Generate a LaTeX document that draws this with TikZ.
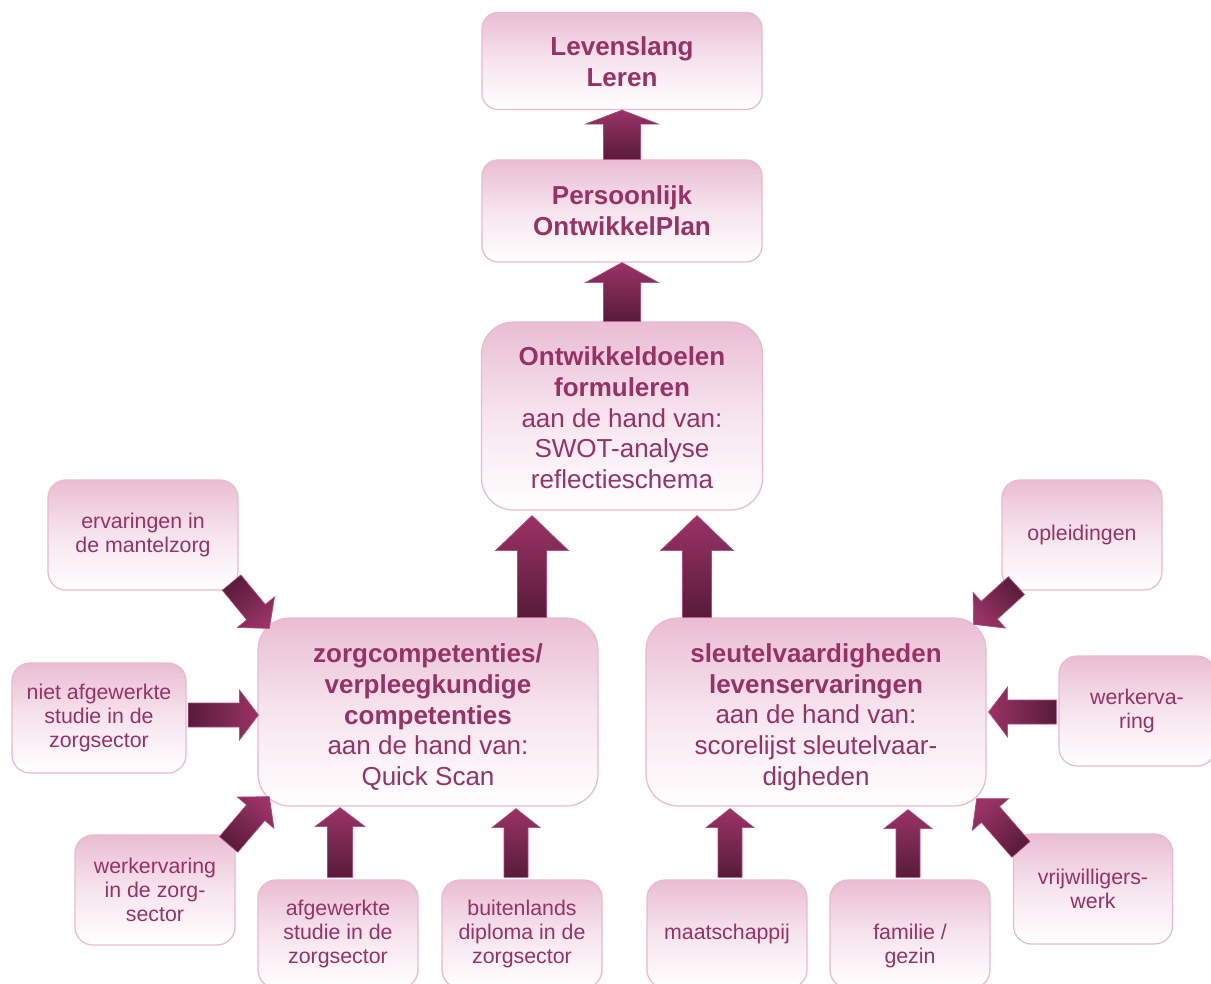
\documentclass[tikz,border=0pt]{standalone}
\usepackage{fontspec}
\setmainfont{Liberation Sans}
\usetikzlibrary{calc}

\definecolor{boxtop}{RGB}{233,189,211}
\definecolor{boxline}{RGB}{234,184,208}
\definecolor{boxtext}{RGB}{152,50,102}
\definecolor{arrowhi}{RGB}{154,51,101}
\definecolor{arrowlo}{RGB}{88,27,57}
\definecolor{arrowline}{RGB}{178,70,126}

\def\px{0.75pt}

% block arrow from #1 to #2: shaft half width, head half width, head length (px)
\newcommand{\flowarrow}[5]{%
  \path let \p1=(#1), \p2=(#2) in \pgfextra{%
    \pgfmathsetmacro\faang{atan2((\y2)-(\y1),(\x2)-(\x1))}%
    \pgfmathsetmacro\falen{veclen((\x2)-(\x1),(\y2)-(\y1))}%
    \global\let\faang\faang \global\let\falen\falen};
  \pgfmathsetmacro\fashade{\faang-90}%
  \begin{scope}[shift={(#1)}, rotate=\faang]
    \shade[flowfill, shading angle=\fashade]
      (0pt,{-#3*\px}) -- ({\falen pt-#5*\px},{-#3*\px})
      -- ({\falen pt-#5*\px},{-#4*\px}) -- (\falen pt,0pt)
      -- ({\falen pt-#5*\px},{#4*\px}) -- ({\falen pt-#5*\px},{#3*\px})
      -- (0pt,{#3*\px}) -- cycle;
  \end{scope}
}

\begin{document}
\begin{tikzpicture}[x=0.75pt, y=0.75pt]

    \tikzset{
      box/.style={
        draw=boxline,
        line width=0.9pt,
        top color=boxtop,
        bottom color=white,
        middle color=boxtop!40!white,
        align=center,
        text=boxtext,
        inner sep=0pt,
      },
      topbox/.style={box, font=\fontsize{19.5}{23}\selectfont\bfseries,
        minimum width=280*\px, rounded corners=16*\px},
      mainbox/.style={box, font=\fontsize{19.5}{23}\selectfont,
        minimum height=188*\px, rounded corners=32*\px},
      smallbox/.style={box, font=\fontsize{16}{18}\selectfont,
        minimum width=160*\px, minimum height=110*\px, rounded corners=18*\px},
      flowfill/.style={
        draw=arrowline,
        line width=0.5pt,
        top color=arrowhi,
        bottom color=arrowlo,
      },
    }
    \useasboundingbox (0,0) rectangle (1211,-984);
    \clip (0,0) rectangle (1211,-984);

    % top column
    \node[topbox, minimum height=97*\px] (leven) at (622,-61) {\rule{0pt}{15.5pt}Levenslang\\Leren};
    \node[topbox, minimum height=102*\px] (pop) at (622,-211) {Persoonlijk\\OntwikkelPlan};
    \node[mainbox, minimum width=281*\px] (doel) at (622,-416)
      {\rule{0pt}{17pt}\textbf{Ontwikkeldoelen}\\\textbf{formuleren}\\aan de hand van:\\SWOT-analyse\\reflectieschema};

    % two main boxes
    \node[mainbox, minimum width=340*\px] (zorg) at (428,-712)
      {\rule{0pt}{22pt}\textbf{zorgcompetenties/}\\\textbf{verpleegkundige}\\\textbf{competenties}\\aan de hand van:\\Quick Scan};
    \node[mainbox, minimum width=340*\px] (sleutel) at (816,-712)
      {\rule{0pt}{22pt}\textbf{sleutelvaardigheden}\\\textbf{levenservaringen}\\aan de hand van:\\scorelijst sleutelvaar-\\digheden};

    % sources left
    \node[smallbox, minimum width=190*\px] (mantel) at (143,-535) {ervaringen in\\de mantelzorg};
    \node[smallbox, minimum width=174*\px] (nietafg) at (99,-718) {niet afgewerkte\\studie in de\\zorgsector};
    \node[smallbox] (werkzorg) at (155,-890) {werkervaring\\in de zorg-\\sector};
    \node[smallbox, minimum height=108*\px] (afgew) at (338,-934) {afgewerkte\\studie in de\\zorgsector};
    \node[smallbox, minimum height=108*\px] (buitenl) at (522,-934) {buitenlands\\diploma in de\\zorgsector};

    % sources right
    \node[smallbox, minimum height=108*\px] (maatsch) at (727,-934) {maatschappij};
    \node[smallbox, minimum height=108*\px] (familie) at (910,-934) {\mbox{}\\[12pt]familie /\\gezin};
    \node[smallbox, minimum width=159*\px] (vrijw) at (1093,-889) {vrijwilligers-\\werk};
    \node[smallbox, minimum width=156*\px] (werk) at (1137,-711) {werkerva-\\ring};
    \node[smallbox] (opleid) at (1082,-535) {opleidingen};

    % arrows up the column
    \flowarrow{pop.north}{leven.south}{18.5}{36.5}{14}
    \flowarrow{doel.north}{pop.south}{18.5}{36.5}{20}
    \flowarrow{[shift={(104,0)}]zorg.north}{[shift={(-90,-5)}]doel.south}{14.5}{36.5}{35}
    \flowarrow{[shift={(-119,0)}]sleutel.north}{[shift={(75,-5)}]doel.south}{14.5}{36.5}{35}

    % arrows into zorg
    \flowarrow{[shift={(-7,8)}]mantel.south east}{[shift={(12,-11)}]zorg.north west}{12}{24}{21}
    \flowarrow{[shift={(2,3)}]nietafg.east}{[shift={(1,-3)}]zorg.west}{12}{25}{19}
    \flowarrow{[shift={(-7,-10)}]werkzorg.north east}{[shift={(12,10)}]zorg.south west}{12}{24}{21}
    \flowarrow{[shift={(2,2)}]afgew.north}{[shift={(2,-1)}]afgew.north |- zorg.south}{12.5}{25}{19}
    \flowarrow{[shift={(-6,2)}]buitenl.north}{[shift={(-6,-2)}]buitenl.north |- zorg.south}{12}{24}{19}

    % arrows into sleutel
    \flowarrow{[shift={(15,5)}]opleid.south west}{[shift={(-13,-7)}]sleutel.north east}{12}{24}{21}
    \flowarrow{[shift={(-2,-1)}]werk.west}{[shift={(2,0)}]sleutel.east}{12}{25}{19}
    \flowarrow{[shift={(8,-16)}]vrijw.north west}{[shift={(-10,8)}]sleutel.south east}{12}{24}{21}
    \flowarrow{[shift={(3,2)}]maatsch.north}{[shift={(3,-2)}]maatsch.north |- sleutel.south}{12}{24}{19}
    \flowarrow{[shift={(-2,2)}]familie.north}{[shift={(-2,-3)}]familie.north |- sleutel.south}{12}{24}{19}

\end{tikzpicture}
\end{document}
